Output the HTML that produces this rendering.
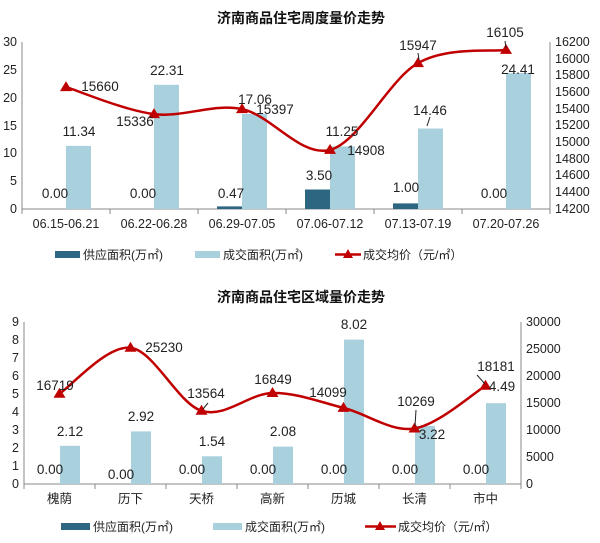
<!DOCTYPE html>
<html><head><meta charset="utf-8"><style>
body{margin:0;background:#fff}
svg{display:block;font-family:"Liberation Sans","Noto Sans CJK SC",sans-serif}
.t{font-size:13.5px;fill:#222}
.ax{font-size:12.5px;fill:#222}
.lg{font-size:12px;fill:#222}
.ti{font-size:14px;font-weight:bold;fill:#111}
</style></head><body>
<svg id="s" width="600" height="543" viewBox="0 0 600 543">
<rect width="600" height="543" fill="#fff"/>
<!-- Chart 1 -->
<text class="ti" x="301" y="23" text-anchor="middle">济南商品住宅周度量价走势</text>
<g stroke="#888" stroke-width="1" fill="none">
<line x1="22" y1="42" x2="22" y2="209"/><line x1="22" y1="209" x2="550" y2="209"/><line x1="550" y1="42" x2="550" y2="209"/>
</g>
<g id="t1"></g>
<g class="ax" text-anchor="end">
<text x="17" y="46">30</text><text x="17" y="74">25</text><text x="17" y="102">20</text><text x="17" y="130">15</text><text x="17" y="157">10</text><text x="17" y="185">5</text><text x="17" y="213">0</text>
</g>
<g class="ax" text-anchor="start">
<text x="555" y="46">16200</text><text x="555" y="63">16000</text><text x="555" y="79">15800</text><text x="555" y="96">15600</text><text x="555" y="113">15400</text><text x="555" y="129">15200</text><text x="555" y="146">15000</text><text x="555" y="163">14800</text><text x="555" y="179">14600</text><text x="555" y="196">14400</text><text x="555" y="213">14200</text>
</g>
<g class="ax" text-anchor="middle">
<text x="66" y="228">06.15-06.21</text><text x="154" y="228">06.22-06.28</text><text x="242" y="228">06.29-07.05</text><text x="330" y="228">07.06-07.12</text><text x="418" y="228">07.13-07.19</text><text x="506" y="228">07.20-07.26</text>
</g>
<g fill="#a8d0dd">
<rect x="66" y="145.9" width="25" height="63.1"/><rect x="154" y="84.8" width="25" height="124.2"/><rect x="242" y="114" width="25" height="95"/><rect x="330" y="146.4" width="25" height="62.6"/><rect x="418" y="128.5" width="25" height="80.5"/><rect x="506" y="73.1" width="25" height="135.9"/>
</g>
<g fill="#2c6680">
<rect x="217" y="206.4" width="25" height="2.6"/><rect x="305" y="189.5" width="25" height="19.5"/><rect x="393" y="203.4" width="25" height="5.6"/>
</g>
<path id="p1" fill="none" stroke="#c00000" stroke-width="2.5"/>
<g id="m1" fill="#c00000"></g>
<g class="t" text-anchor="middle">
<text x="55" y="198">0.00</text><text x="143" y="198">0.00</text><text x="231" y="198">0.47</text><text x="319" y="180">3.50</text><text x="406" y="192">1.00</text><text x="494" y="198">0.00</text>
<text x="79" y="136">11.34</text><text x="167" y="75">22.31</text><text x="255" y="104">17.06</text><text x="342" y="136">11.25</text><text x="430" y="115">14.46</text><text x="518" y="74">24.41</text>
<text x="100" y="91">15660</text><text x="135" y="126">15336</text><text x="275" y="114">15397</text><text x="366" y="155">14908</text><text x="418" y="50">15947</text><text x="505" y="37">16105</text>
</g>
<g stroke="#222" stroke-width="1"><line x1="430" y1="117" x2="427" y2="126"/><line x1="505" y1="41" x2="506" y2="48"/><line x1="418" y1="53" x2="419" y2="60"/></g>
<!-- legend 1 -->
<rect x="55" y="251" width="25" height="7" fill="#2c6680"/><text class="lg" x="83" y="259">供应面积(万㎡)</text>
<rect x="195" y="251" width="25" height="7" fill="#a8d0dd"/><text class="lg" x="223" y="259">成交面积(万㎡)</text>
<line x1="335" y1="254.5" x2="361" y2="254.5" stroke="#c00000" stroke-width="2.5"/><path d="M348 249 L353 258 L343 258Z" fill="#c00000"/><text class="lg" x="363" y="259">成交均价（元/㎡）</text>

<!-- Chart 2 -->
<text class="ti" x="301" y="302" text-anchor="middle">济南商品住宅区域量价走势</text>
<g stroke="#888" stroke-width="1" fill="none">
<line x1="24" y1="322" x2="24" y2="484"/><line x1="24" y1="484" x2="521" y2="484"/><line x1="521" y1="322" x2="521" y2="484"/>
</g>
<g id="t2"></g>
<g class="ax" text-anchor="end">
<text x="19" y="326">9</text><text x="19" y="344">8</text><text x="19" y="362">7</text><text x="19" y="380">6</text><text x="19" y="398">5</text><text x="19" y="416">4</text><text x="19" y="434">3</text><text x="19" y="452">2</text><text x="19" y="470">1</text><text x="19" y="488">0</text>
</g>
<g class="ax" text-anchor="start">
<text x="526" y="326">30000</text><text x="526" y="353">25000</text><text x="526" y="380">20000</text><text x="526" y="407">15000</text><text x="526" y="434">10000</text><text x="526" y="461">5000</text><text x="526" y="488">0</text>
</g>
<g class="ax" text-anchor="middle">
<text x="59.5" y="503">槐荫</text><text x="130.5" y="503">历下</text><text x="201.5" y="503">天桥</text><text x="272.5" y="503">高新</text><text x="343.5" y="503">历城</text><text x="414.5" y="503">长清</text><text x="485.5" y="503">市中</text>
</g>
<g fill="#a8d0dd">
<rect x="60" y="445.8" width="20" height="38.2"/><rect x="131" y="431.4" width="20" height="52.6"/><rect x="202" y="456.3" width="20" height="27.7"/><rect x="273" y="446.6" width="20" height="37.4"/><rect x="344" y="339.6" width="20" height="144.4"/><rect x="415" y="426" width="20" height="58"/><rect x="486" y="403.2" width="20" height="80.8"/>
</g>
<path id="p2" fill="none" stroke="#c00000" stroke-width="2.5"/>
<g id="m2" fill="#c00000"></g>
<g class="t" text-anchor="middle">
<text x="50" y="474">0.00</text><text x="121" y="479">0.00</text><text x="192" y="474">0.00</text><text x="263" y="474">0.00</text><text x="334" y="474">0.00</text><text x="405" y="474">0.00</text><text x="476" y="474">0.00</text>
<text x="70" y="436">2.12</text><text x="141" y="421">2.92</text><text x="212" y="446">1.54</text><text x="283" y="436">2.08</text><text x="354" y="329">8.02</text><text x="432" y="439">3.22</text><text x="502" y="391">4.49</text>
<text x="55" y="390">16719</text><text x="164" y="352">25230</text><text x="206" y="398">13564</text><text x="273" y="384">16849</text><text x="328" y="397">14099</text><text x="416" y="406">10269</text><text x="496" y="371">18181</text>
</g>
<g stroke="#222" stroke-width="1"><line x1="208" y1="403" x2="203" y2="409"/><line x1="416" y1="410" x2="415" y2="426"/><line x1="477" y1="375" x2="485" y2="384"/></g>
<!-- legend 2 -->
<rect x="61" y="523" width="29" height="7" fill="#2c6680"/><text class="lg" x="93" y="531">供应面积(万㎡)</text>
<rect x="213" y="523" width="29" height="7" fill="#a8d0dd"/><text class="lg" x="245" y="531">成交面积(万㎡)</text>
<line x1="365" y1="526.5" x2="396" y2="526.5" stroke="#c00000" stroke-width="2.5"/><path d="M380 521 L385 530 L375 530Z" fill="#c00000"/><text class="lg" x="398" y="531">成交均价（元/㎡）</text>
</svg>
<script>
var NS="http://www.w3.org/2000/svg";
function curve(p){var d="M"+p[0][0]+" "+p[0][1];for(var i=0;i<p.length-1;i++){var a=p[i-1]||p[i],b=p[i],c=p[i+1],e=p[i+2]||c;var k=6;d+=" C"+(b[0]+(c[0]-a[0])/k)+" "+(b[1]+(c[1]-a[1])/k)+" "+(c[0]-(e[0]-b[0])/k)+" "+(c[1]-(e[1]-b[1])/k)+" "+c[0]+" "+c[1];}return d;}
function marks(id,p){var g=document.getElementById(id);p.forEach(function(q){var t=document.createElementNS(NS,"path");t.setAttribute("d","M"+q[0]+" "+(q[1]-6)+" L"+(q[0]+6)+" "+(q[1]+4)+" L"+(q[0]-6)+" "+(q[1]+4)+"Z");g.appendChild(t);});}
function ticks(id,x0,w,n,y){var g=document.getElementById(id);for(var i=0;i<=n;i++){var l=document.createElementNS(NS,"line");var x=x0+w*i;l.setAttribute("x1",x);l.setAttribute("x2",x);l.setAttribute("y1",y);l.setAttribute("y2",y+5);l.setAttribute("stroke","#888");g.appendChild(l);}}
var p1=[[66,87.1],[154,114.1],[242,109.1],[330,149.9],[418,63.1],[506,49.9]];
var p2=[[59.5,393.7],[130.5,347.8],[201.5,410.8],[272.5,393],[343.5,407.9],[414.5,428.5],[485.5,385.8]];
document.getElementById("p1").setAttribute("d",curve(p1));
document.getElementById("p2").setAttribute("d",curve(p2));
marks("m1",p1);marks("m2",p2);
ticks("t1",22,88,6,209);ticks("t2",24,71,7,484);
</script>
</body></html>
